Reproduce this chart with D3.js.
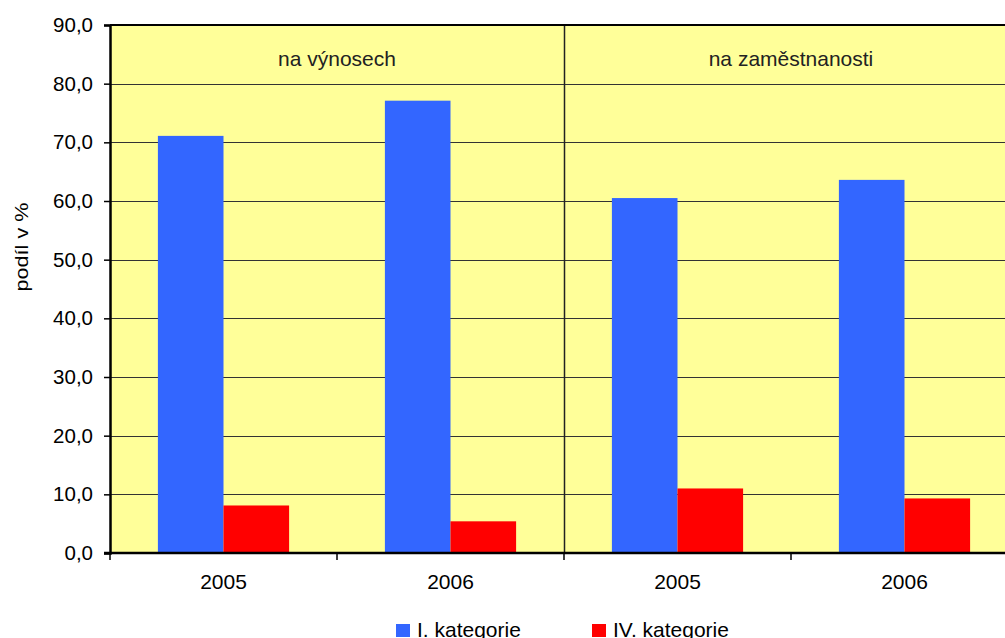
<!DOCTYPE html>
<html>
<head>
<meta charset="utf-8">
<script src="https://cdn.jsdelivr.net/npm/d3@7"></script>
<style>
  body { margin: 0; background: #fff; }
  svg { font-family: "Liberation Sans", Arial, sans-serif; display: block; }
</style>
</head>
<body>
<script>
// data
var groups = ["na výnosech", "na zaměstnanosti"];
var years = ["2005", "2006"];
var series = ["I. kategorie", "IV. kategorie"];
var kat1 = [71.1, 77.1, 60.5, 63.6];
var kat4 = [8.1, 5.4, 11.0, 9.3];
var yTicks = [0, 10, 20, 30, 40, 50, 60, 70, 80, 90];
var colors = ["#3366FF", "#FF0000"];

var W = 1005, H = 638;
var margin = { top: 25, left: 110 },
    plotH = 553 - margin.top,
    plotRight = 1018;

var svg = d3.select("body").append("svg")
    .attr("width", W).attr("height", H);

// one cell per group/year
var cells = [];
groups.forEach(function(g, gi) {
    years.forEach(function(yr, yi) {
        cells.push({ key: gi + "-" + yi, group: g, year: yr, i: gi * years.length + yi });
    });
});

var x = d3.scaleBand().domain(cells.map(function(c) { return c.key; }))
    .range([margin.left, plotRight]);
var xg = d3.scaleBand().domain(groups).range([margin.left, plotRight]);
var xs = d3.scaleBand().domain(series).range([0, x.bandwidth()]).paddingInner(0).paddingOuter(0.73);
var y = d3.scaleLinear().domain([0, 90]).range([margin.top + plotH, margin.top]);

// background
svg.append("rect").attr("x", margin.left).attr("y", y(90))
    .attr("width", plotRight - margin.left).attr("height", y(0) - y(90))
    .attr("fill", "#FFFF99");

// gridlines
svg.append("g").selectAll("line").data(yTicks.slice(1, -1)).enter().append("line")
    .attr("x1", margin.left).attr("x2", plotRight)
    .attr("y1", function(d) { return Math.round(y(d)) + 0.5; })
    .attr("y2", function(d) { return Math.round(y(d)) + 0.5; })
    .attr("stroke", "#333").attr("stroke-width", 1);

// bars
var bars = svg.append("g");
cells.forEach(function(c) {
    [kat1[c.i], kat4[c.i]].forEach(function(v, si) {
        bars.append("rect")
            .attr("x", x(c.key) + xs(series[si]))
            .attr("width", xs.bandwidth())
            .attr("y", y(v))
            .attr("height", y(0) - y(v))
            .attr("fill", colors[si]);
    });
});

// group separator
svg.append("line")
    .attr("x1", xg(groups[1]) + 0.5).attr("x2", xg(groups[1]) + 0.5)
    .attr("y1", y(90)).attr("y2", y(0))
    .attr("stroke", "#222").attr("stroke-width", 1.5);

// top border
svg.append("line").attr("x1", margin.left).attr("x2", plotRight)
    .attr("y1", y(90)).attr("y2", y(90))
    .attr("stroke", "#000").attr("stroke-width", 2);

// group titles
svg.append("g").selectAll("text").data(groups).enter().append("text")
    .attr("x", function(d) { return xg(d) + xg.bandwidth() / 2; })
    .attr("y", 66)
    .attr("text-anchor", "middle")
    .attr("font-size", 21).attr("fill", "#222")
    .text(function(d) { return d; });

// y axis
var fmt = function(d) { return d3.format(".1f")(d).replace(".", ","); };
var yAxis = svg.append("g").attr("transform", "translate(" + margin.left + ",0)")
    .call(d3.axisLeft(y).tickValues(yTicks).tickFormat(fmt).tickSize(6).tickPadding(11));
yAxis.select(".domain").attr("stroke", "#000").attr("stroke-width", 2.5);
yAxis.selectAll(".tick line").attr("stroke", "#000").attr("stroke-width", 1.5);
yAxis.selectAll("text").attr("font-size", 20.5).attr("fill", "#000")
    .attr("font-family", "Liberation Sans, Arial, sans-serif");

// x axis
var xTickPos = cells.map(function(c) { return x(c.key); }).concat([plotRight]);
var xAxis = svg.append("g");
xAxis.append("line").attr("x1", margin.left - 6).attr("x2", plotRight)
    .attr("y1", y(0)).attr("y2", y(0)).attr("stroke", "#000").attr("stroke-width", 2.5);
xAxis.selectAll("line.t").data(xTickPos).enter().append("line").attr("class", "t")
    .attr("x1", function(d) { return d; }).attr("x2", function(d) { return d; })
    .attr("y1", y(0)).attr("y2", y(0) + 7)
    .attr("stroke", "#000").attr("stroke-width", 1.5);
xAxis.selectAll("text").data(cells).enter().append("text")
    .attr("x", function(c) { return x(c.key) + x.bandwidth() / 2; })
    .attr("y", 589)
    .attr("text-anchor", "middle").attr("font-size", 21).attr("fill", "#000")
    .text(function(c) { return c.year; });

// y axis title
svg.append("text")
    .attr("transform", "translate(28,247) rotate(-90) scale(1.2,1)")
    .attr("text-anchor", "middle").attr("font-size", 18).attr("fill", "#000")
    .text("podíl v %");

// legend
var legX = [396, 592];
var leg = svg.append("g").selectAll("g").data(series).enter().append("g")
    .attr("transform", function(d, i) { return "translate(" + legX[i] + ",624)"; });
leg.append("rect").attr("width", 14).attr("height", 13)
    .attr("fill", function(d, i) { return colors[i]; });
leg.append("text").attr("x", 20).attr("y", 13)
    .attr("font-size", 20).attr("fill", "#000")
    .attr("transform", "scale(1.05,1)")
    .text(function(d) { return d; });
</script>
</body>
</html>
